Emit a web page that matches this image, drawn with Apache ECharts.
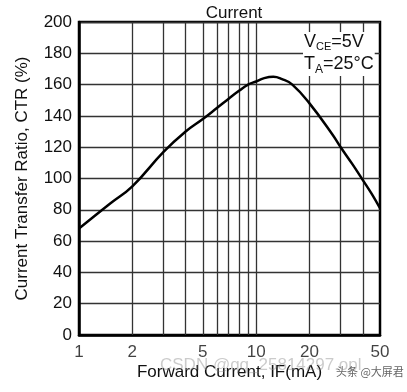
<!DOCTYPE html>
<html>
<head>
<meta charset="utf-8">
<script src="https://cdn.jsdelivr.net/npm/echarts@6/dist/echarts.min.js"></script>
<style>
html,body{margin:0;padding:0;background:#fff;}
#chart{width:407px;height:392px;}
</style>
</head>
<body>
<div id="chart"></div>
<script>
// ---- data ----
var currentMA = [1, 1.5, 2, 3, 4, 5, 6, 7, 8, 9, 10, 11, 12.5, 14, 16, 20, 27, 30, 35, 40, 45, 50];
var ctrPct    = [68, 84, 95, 117, 130, 138, 145, 151, 156, 160, 162, 164, 165, 163.5, 160, 148, 128, 120, 109, 99, 90, 81];
var xGridTicks = [2, 3, 4, 5, 6, 7, 8, 9, 10, 20, 30, 40];
var xTickLabels = [1, 2, 5, 10, 20, 50];
var xMin = 1, xMax = 50;
var yMin = 0, yMax = 200, yStep = 20;

var FONT = '"Liberation Sans", Arial, Helvetica, sans-serif';

var chart = echarts.init(document.getElementById('chart'), null, {renderer: 'canvas'});

var curve = currentMA.map(function (x, i) { return [x, ctrPct[i]]; });
var labelPts = xTickLabels.map(function (x) { return [x, yMin]; });

chart.setOption({
  animation: false,
  backgroundColor: '#fff',
  title: {
    text: 'Current',
    left: 229,
    top: 0,
    textAlign: 'center',
    textStyle: {fontFamily: FONT, fontSize: 17, fontWeight: 'normal', color: '#111'}
  },
  grid: {
    left: 79, right: 27, top: 22, bottom: 57,
    show: true, borderColor: '#000', borderWidth: 2.5, backgroundColor: 'transparent'
  },
  xAxis: {
    type: 'log', logBase: 10, min: xMin, max: xMax,
    name: 'Forward Current, IF(mA)',
    nameLocation: 'middle', nameGap: 29,
    nameTextStyle: {fontFamily: FONT, fontSize: 17, color: '#111'},
    axisLine: {show: true, lineStyle: {color: '#000', width: 2.5}},
    axisTick: {show: false},
    axisLabel: {show: false},
    splitLine: {show: false},
    minorTick: {show: false},
    minorSplitLine: {show: false}
  },
  yAxis: {
    type: 'value', min: yMin, max: yMax, interval: yStep,
    name: 'Current Transfer Ratio, CTR (%)',
    nameLocation: 'middle', nameGap: 48,
    nameTextStyle: {fontFamily: FONT, fontSize: 17, color: '#111'},
    axisLine: {show: true, lineStyle: {color: '#000', width: 2.5}},
    axisTick: {show: false},
    axisLabel: {fontFamily: FONT, fontSize: 17, color: '#111', margin: 7},
    splitLine: {show: true, lineStyle: {color: '#333', width: 1.3}}
  },
  series: [
    {
      type: 'line', data: [], z: 1, silent: true,
      markLine: {
        silent: true, symbol: ['none', 'none'],
        label: {show: false},
        lineStyle: {color: '#333', width: 1.3, type: 'solid'},
        emphasis: {disabled: true},
        data: xGridTicks.map(function (v) { return {xAxis: v}; })
      }
    },
    {
      type: 'line', data: curve, smooth: 0.45, showSymbol: false, z: 5,
      lineStyle: {color: '#000', width: 2.5}
    },
    {
      type: 'scatter', data: labelPts, symbolSize: 0, z: 5, silent: true,
      label: {
        show: true, position: 'bottom', distance: 9,
        formatter: function (p) { return String(p.value[0]); },
        fontFamily: FONT, fontSize: 17, color: '#111'
      }
    }
  ],
  graphic: [
    {
      type: 'text', left: 303, top: 32, z: 10,
      style: {
        text: '{a|V}{b|CE}{a|=5V}\n{a|T}{c|A}{a|=25°C}',
        backgroundColor: '#fff',
        padding: [0, 1],
        rich: {
          a: {fontFamily: FONT, fontSize: 18, fill: '#111', lineHeight: 20},
          b: {fontFamily: FONT, fontSize: 11, fill: '#111', lineHeight: 18, verticalAlign: 'bottom'},
          c: {fontFamily: FONT, fontSize: 12, fill: '#111', lineHeight: 24, verticalAlign: 'bottom'}
        }
      }
    },
    {
      type: 'text', left: 160, top: 357, z: 20, silent: true,
      style: {text: 'CSDN @qq_25814297.opl', font: '17px ' + FONT, fill: 'rgba(140,140,140,0.45)'}
    },
    {
      type: 'text', left: 336, top: 366, z: 20, silent: true,
      style: {text: '头条 @大屏君', font: '11px "Noto Sans CJK SC", sans-serif', fill: '#666'}
    }
  ]
});
</script>
</body>
</html>
